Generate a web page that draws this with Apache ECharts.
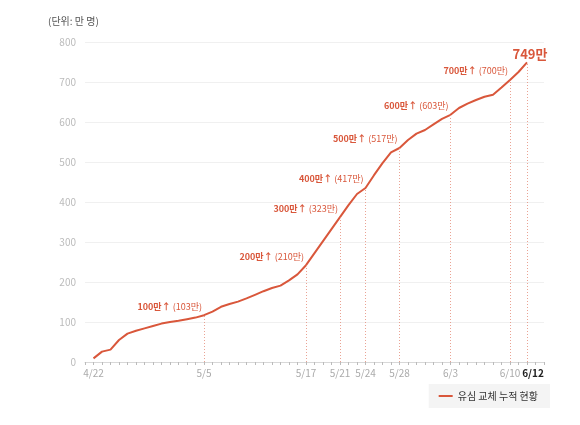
<!DOCTYPE html>
<html>
<head>
<meta charset="utf-8">
<script src="https://cdn.jsdelivr.net/npm/echarts@6/dist/echarts.min.js"></script>
<style>
html,body{margin:0;padding:0;background:#fff;}
#chart{width:580px;height:425px;}
</style>
</head>
<body>
<div id="chart"></div>
<script>
// 날짜 (4/22 ~ 6/12, 하루 단위)
var dates = ['4/22','4/23','4/24','4/25','4/26','4/27','4/28','4/29','4/30',
  '5/1','5/2','5/3','5/4','5/5','5/6','5/7','5/8','5/9','5/10','5/11','5/12','5/13','5/14','5/15','5/16',
  '5/17','5/18','5/19','5/20','5/21','5/22','5/23','5/24','5/25','5/26','5/27','5/28','5/29','5/30','5/31',
  '6/1','6/2','6/3','6/4','6/5','6/6','6/7','6/8','6/9','6/10','6/11','6/12'];
// 누적 교체 인원 (만 명)
var values = [9,26,31,55,71,78,84,90,96,100,103,107,111,117,126,138,145,151,159,168,177,185,191,204,219,
  242,272,302,332,362,392,420,435,467,497,524,535,555,571,580,594,608,618,635,646,655,663,668,686,705,725,749];
// x축에 표시할 날짜
var labelDates = ['4/22','5/5','5/17','5/21','5/24','5/28','6/3','6/10','6/12'];
// 돌파 표시
var markDates = ['5/5','5/17','5/21','5/24','5/28','6/3','6/10','6/12'];
var milestones = [100,200,300,400,500,600,700];
var milestoneActual = [103,210,323,417,517,603,700];
var lastLabel = '749만';
var yTicks = [0,100,200,300,400,500,600,700,800];

var mainColor = '#d9573b';
var font = '"Noto Sans CJK KR", "Noto Sans", sans-serif';

var _myChart = echarts.init(document.getElementById('chart'));

var lineData = values.map(function(v, i){ return [i, v]; });

var vLines = markDates.map(function(d){
    var i = dates.indexOf(d);
    return [{coord:[i, 0]}, {coord:[i, values[i]]}];
});

var points = milestones.map(function(m, k){
    var i = dates.indexOf(markDates[k]);
    return {
        coord:[i, values[i]],
        label:{
            formatter:'{b|' + m + '만↑}{n|(' + milestoneActual[k] + '만)}',
            position:'left',
            distance:2,
            offset:[0,-9]
        }
    };
});
var lastIdx = values.length - 1;
points.push({
    coord:[lastIdx, values[lastIdx]],
    label:{
        formatter:'{big|' + lastLabel + '}',
        position:'top',
        distance:2,
        offset:[3,0]
    }
});

var option = {
    animation:false,
    textStyle:{fontFamily:font},
    graphic:[{
        type:'text',
        left:48,
        top:16,
        style:{text:'(단위: 만 명)', fill:'#555', font:'10px ' + font}
    }],
    grid:{left:85, right:36, top:42, bottom:63},
    legend:{
        right:30,
        top:384,
        backgroundColor:'#f4f4f4',
        padding:[7,12,7,10],
        icon:'rect',
        itemWidth:14,
        itemHeight:2,
        textStyle:{fontSize:10, color:'#333', fontFamily:font},
        data:['유심 교체 누적 현황']
    },
    xAxis:{
        type:'value',
        min:-1,
        max:53,
        interval:1,
        axisLine:{lineStyle:{color:'#d8d8d8'}},
        axisTick:{show:true, length:3, lineStyle:{color:'#bbbbbb'}},
        splitLine:{show:false},
        axisLabel:{
            color:'#aaaaaa',
            fontSize:10,
            margin:6,
            hideOverlap:false,
            formatter:function(v){
                var d = dates[v];
                if(!d || labelDates.indexOf(d) < 0) return '';
                if(v === dates.length - 1) return '{last|' + d + '}';
                return d;
            },
            rich:{last:{color:'#222', fontWeight:'bold', fontSize:10, padding:[0,0,0,12]}}
        }
    },
    yAxis:{
        type:'value',
        min:yTicks[0],
        max:yTicks[yTicks.length - 1],
        interval:100,
        axisLine:{show:false},
        axisTick:{show:false},
        axisLabel:{color:'#bbbbbb', fontSize:10, margin:9},
        splitLine:{lineStyle:{color:'#f0f0f0'}}
    },
    series:[{
        name:'유심 교체 누적 현황',
        type:'line',
        data:lineData,
        showSymbol:false,
        symbol:'none',
        lineStyle:{color:mainColor, width:2},
        itemStyle:{color:mainColor},
        markLine:{
            silent:true,
            symbol:['none','none'],
            label:{show:false},
            lineStyle:{color:'#e58c79', type:[1,2], width:1, opacity:0.8},
            emphasis:{disabled:true},
            data:vLines
        },
        markPoint:{
            silent:true,
            symbol:'circle',
            symbolSize:0,
            label:{
                show:true,
                rich:{
                    b:{color:mainColor, fontWeight:'bold', fontSize:9, fontFamily:font},
                    n:{color:mainColor, fontSize:9, fontFamily:font, padding:[0,0,0,2]},
                    big:{color:mainColor, fontWeight:'bold', fontSize:13, fontFamily:font}
                }
            },
            data:points
        }
    }]
};

_myChart.setOption(option);
</script>
</body>
</html>
